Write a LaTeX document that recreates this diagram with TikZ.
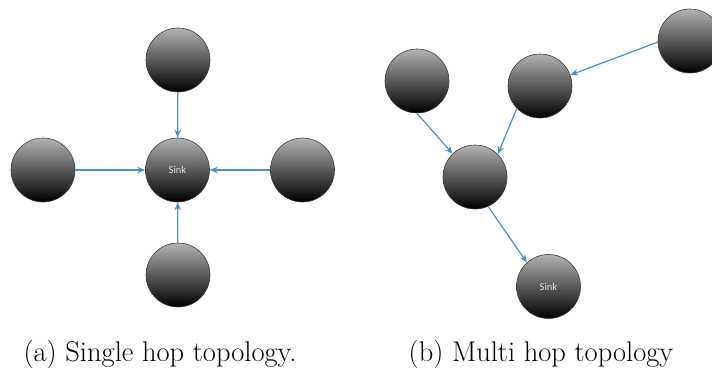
\documentclass[tikz,border=0pt]{standalone}
\usepackage{fontspec}
\newfontfamily\labelfont{Carlito}
\usetikzlibrary{arrows.meta}
\definecolor{linkblue}{RGB}{74,145,196}
\definecolor{balltop}{RGB}{178,178,178}
\definecolor{ballrim}{RGB}{60,60,60}
\tikzset{
  ball/.style={circle, minimum size=64pt, inner sep=0pt, draw=ballrim, line width=0.6pt,
    top color=balltop, bottom color=black, shading angle=0,
    font=\labelfont\fontsize{10.5}{12}\selectfont, text=white!88!black},
  link/.style={draw=linkblue, line width=1.2pt, -{Stealth[length=8pt,width=6.5pt]}},
  caption/.style={font=\fontsize{28.5}{32}\selectfont, anchor=base}
}
\begin{document}
\begin{tikzpicture}[x=1pt,y=-1pt]
\useasboundingbox (0,0) rectangle (712,367);
\clip (0,0) rectangle (712,367);
% single hop: every node sends straight to the sink
\node[ball] (s)  at (177.5,170) {Sink};
\node[ball] (t)  at (178,60) {};
\node[ball] (l)  at (43,170) {};
\node[ball] (r)  at (302.5,170) {};
\node[ball] (b)  at (178,275) {};
\draw[link] (t) -- (s);
\draw[link] (l) -- (s);
\draw[link] (r) -- (s);
\draw[link] (b) -- (s);
% multi hop: traffic is relayed towards the sink
\node[ball] (ma) at (417,81) {};
\node[ball] (mb) at (540,86) {};
\node[ball] (mc) at (690,41) {};
\node[ball] (md) at (475,177) {};
\node[ball] (ms) at (548.5,286.5) {Sink};
\draw[link] (mc.182) -- (mb.20);
\draw[link] (ma.270) -- (md.134);
\draw[link] (mb.224) -- (md.45);
\draw[link] (md.294) -- (ms.132);
% captions
\node[caption] (ca) at (160,361) {(a) Single hop topology.};
\node[caption] (cb) at (541,361) {(b) Multi hop topology};
\end{tikzpicture}
\end{document}
